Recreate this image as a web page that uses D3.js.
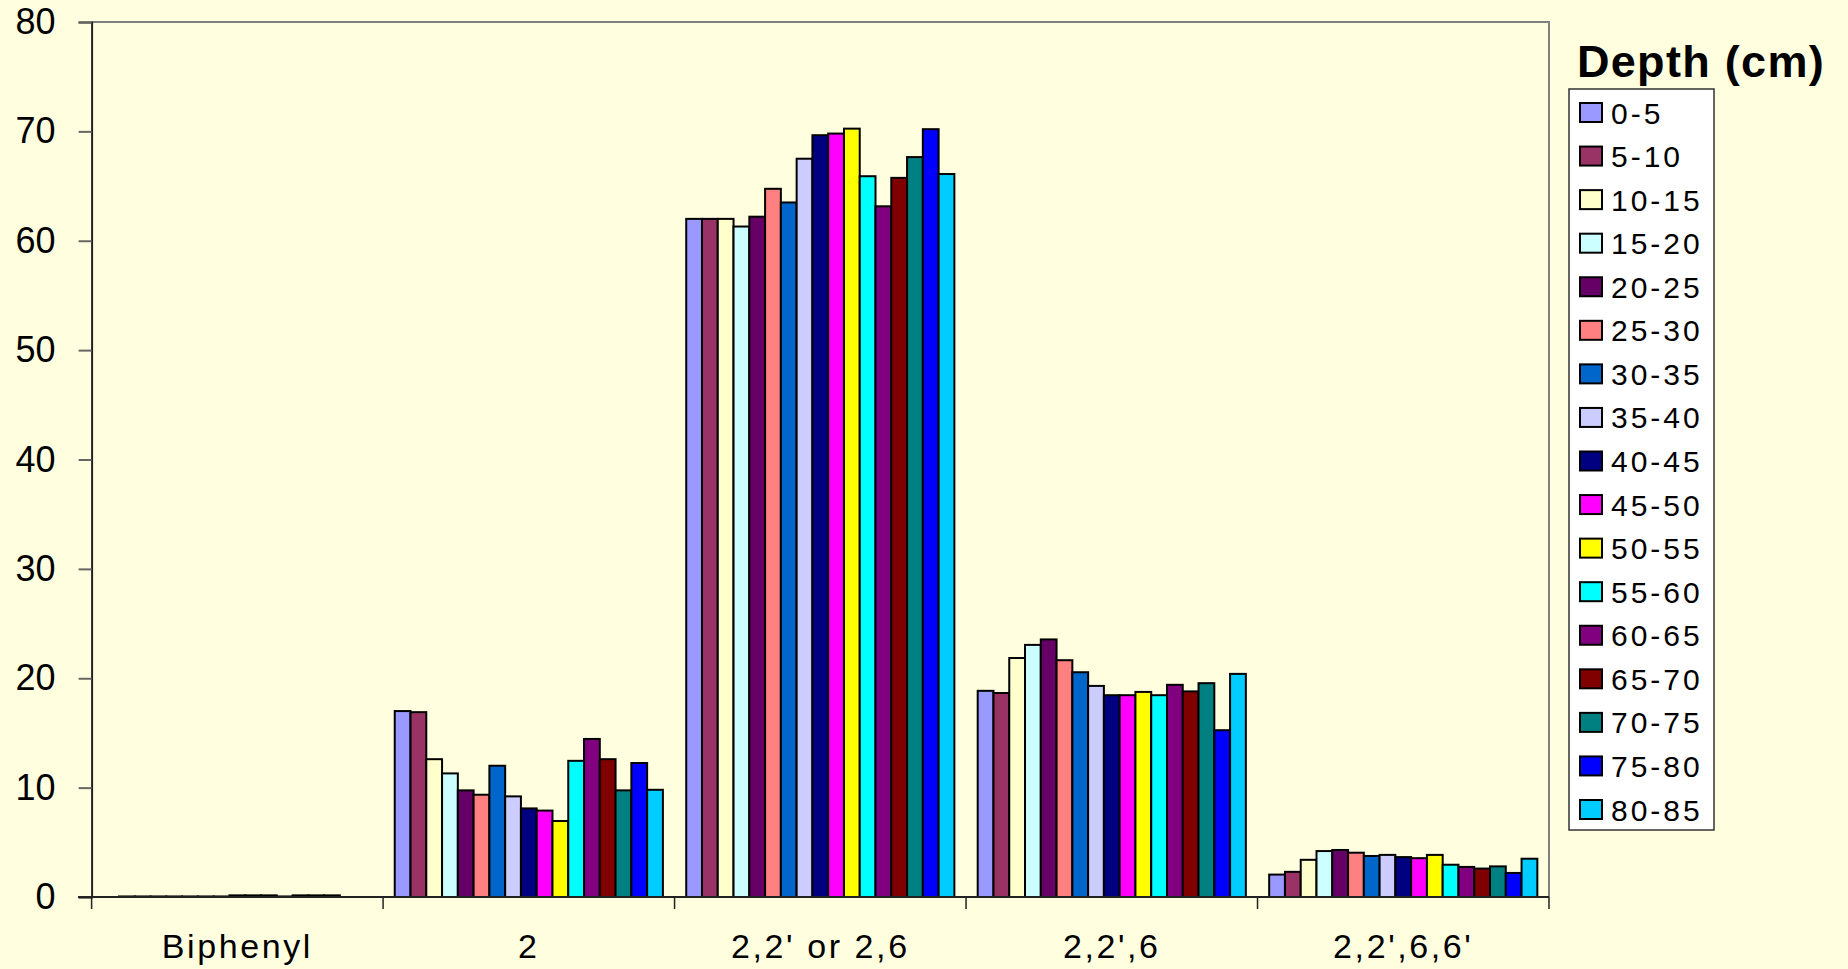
<!DOCTYPE html>
<html><head><meta charset="utf-8">
<script src="https://cdn.jsdelivr.net/npm/d3@7"></script>
<style>
html,body{margin:0;padding:0;background:#FFFFE0;}
svg{display:block;font-family:Arial,"Liberation Sans",sans-serif;}
</style></head>
<body><svg id="c" width="1848" height="969"></svg>
<script>
const categories = ["Biphenyl", "2", "2,2' or 2,6", "2,2',6", "2,2',6,6'"];
const depths = ["0-5","5-10","10-15","15-20","20-25","25-30","30-35","35-40","40-45","45-50","50-55","55-60","60-65","65-70","70-75","75-80","80-85"];
const colors = ["#9999FF","#993366","#FFFFCC","#CCFFFF","#660066","#FF8080","#0066CC","#CCCCFF","#000080","#FF00FF","#FFFF00","#00FFFF","#800080","#800000","#008080","#0000FF","#00CCFF"];
// values per category, one per depth
const biphenyl = [0, 0.05, 0.05, 0.05, 0.05, 0.05, 0.05, 0.05, 0.15, 0.15, 0.15, 0.05, 0.15, 0.15, 0.15, 0, 0];
const pcb2 = [17.0, 16.9, 12.6, 11.3, 9.75, 9.35, 12.0, 9.2, 8.1, 7.9, 6.95, 12.45, 14.45, 12.6, 9.75, 12.25, 9.8];
const pcb22or26 = [62.0, 62.0, 62.0, 61.3, 62.2, 64.75, 63.5, 67.5, 69.65, 69.8, 70.25, 65.9, 63.15, 65.75, 67.65, 70.2, 66.1];
const pcb226 = [18.85, 18.65, 21.85, 23.05, 23.55, 21.65, 20.55, 19.3, 18.45, 18.45, 18.75, 18.45, 19.4, 18.8, 19.55, 15.25, 20.4];
const pcb2266 = [2.05, 2.3, 3.4, 4.2, 4.3, 4.05, 3.75, 3.85, 3.65, 3.55, 3.85, 2.95, 2.75, 2.6, 2.8, 2.2, 3.5];
const seriesByCategory = [biphenyl, pcb2, pcb22or26, pcb226, pcb2266];
const yTicks = [0,10,20,30,40,50,60,70,80];
const legendTitle = "Depth (cm)";

const svg = d3.select("#c");
svg.append("rect").attr("width",1848).attr("height",969).attr("fill","#FFFFE0");

const pLeft = 91.6, pRight = 1549, pTop = 22, pBottom = 897;
const x0 = d3.scaleBand().domain(categories).range([pLeft, pRight]).paddingInner(0.08).paddingOuter(0.04);
const x1 = d3.scaleBand().domain(depths).range([0, x0.bandwidth()]);
const y = d3.scaleLinear().domain([0, 80]).range([pBottom, pTop]);
const color = d3.scaleOrdinal().domain(depths).range(colors);

// plot border (top & right, gray)
svg.append("path").attr("d", `M${pLeft},${pTop}H${pRight}V${pBottom}`).attr("fill","none").attr("stroke","#808080").attr("stroke-width",2);

// bars
const g = svg.append("g");
categories.forEach((c, ci) => {
  const vals = seriesByCategory[ci];
  g.selectAll(null).data(depths.map((d, i) => ({d, v: vals[i]})).filter(o => o.v > 0))
    .enter().append("rect")
    .attr("x", o => x0(c) + x1(o.d))
    .attr("y", o => y(o.v))
    .attr("width", x1.bandwidth())
    .attr("height", o => y(0) - y(o.v))
    .attr("fill", o => color(o.d))
    .attr("stroke", "#000")
    .attr("stroke-width", 2);
});

// y axis
const yAxis = svg.append("g").attr("transform", `translate(${pLeft},0)`)
  .call(d3.axisLeft(y).tickValues(yTicks).tickSize(13).tickPadding(23).tickFormat(d3.format("d")));
yAxis.select(".domain").attr("stroke","#222").attr("stroke-width",2);
yAxis.selectAll(".tick line").attr("stroke","#666").attr("stroke-width",2);
yAxis.selectAll("text").attr("font-size",36).attr("fill","#000").attr("font-family","Arial, 'Liberation Sans', sans-serif");

// x axis
const xAxis = svg.append("g").attr("transform", `translate(0,${pBottom})`)
  .call(d3.axisBottom(x0).tickSize(0).tickPadding(37));
xAxis.select(".domain").remove();
xAxis.selectAll("text").attr("font-size",34).attr("letter-spacing","2.6px").attr("fill","#000").attr("font-family","Arial, 'Liberation Sans', sans-serif");
svg.append("line").attr("x1", 78).attr("x2", pRight).attr("y1", pBottom).attr("y2", pBottom).attr("stroke","#222").attr("stroke-width",2);
const bounds = categories.map(c => x0(c) - x0.step()*x0.paddingInner()/2).concat([pRight]);
svg.selectAll(null).data(bounds).enter().append("line")
  .attr("x1", d => d).attr("x2", d => d).attr("y1", pBottom).attr("y2", pBottom + 12)
  .attr("stroke","#222").attr("stroke-width",1.5);

// legend
svg.append("text").attr("x",1577).attr("y",77).attr("font-size",45).attr("font-weight","bold")
  .attr("letter-spacing","1.3px").attr("fill","#000").text(legendTitle);
svg.append("rect").attr("x",1569).attr("y",89).attr("width",145).attr("height",741)
  .attr("fill","#fff").attr("stroke","#333").attr("stroke-width",1.5);
const ly = d3.scalePoint().domain(depths).range([113, 810]);
const lg = svg.selectAll(null).data(depths).enter().append("g")
  .attr("transform", d => `translate(0,${ly(d)})`);
lg.append("rect").attr("x",1580).attr("y",-10).attr("width",22).attr("height",19)
  .attr("fill", d => color(d)).attr("stroke","#000").attr("stroke-width",2);
lg.append("text").attr("x",1611).attr("y",10.5).attr("font-size",30).attr("letter-spacing","3px")
  .attr("fill","#000").text(d => d);
</script></body></html>
